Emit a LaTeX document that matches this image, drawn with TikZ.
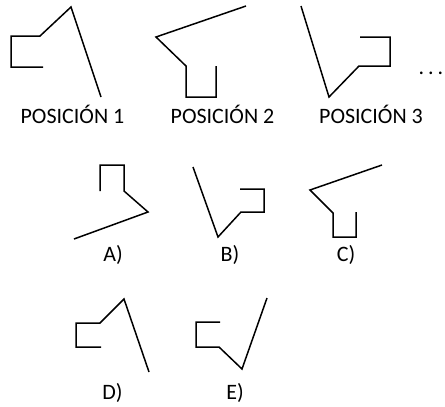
\documentclass[tikz,border=0pt]{standalone}
\usepackage{fontspec}
\setmainfont{Carlito}
\begin{document}
\begin{tikzpicture}[x=1pt,y=-1pt,
  fig/.style={line width=1.5pt, line join=miter, line cap=butt},
  lab/.style={anchor=base, inner sep=0pt, font=\fontsize{22}{26}\selectfont}]
\useasboundingbox (0,0) rectangle (445,407);
% Position 1
\draw[fig] (43,67) -- (11,67) -- (11,36) -- (40,36) -- (71,7) -- (101,97);
% Position 2
\draw[fig] (246,6) -- (156,37) -- (186,66) -- (186,97) -- (216,97) -- (216,66);
% Position 3
\draw[fig] (301,6) -- (329,97) -- (359,66) -- (390,66) -- (390,37) -- (360,37);
\node[lab] (dots) at (431,74) {.\hspace{4pt}.\hspace{4pt}.};
\node[lab] (p1) at (72.5,123) {POSICIÓN 1};
\node[lab] (p2) at (222.5,123) {POSICIÓN 2};
\node[lab] (p3) at (371,123) {POSICIÓN 3};
% A
\draw[fig] (100,191) -- (100,165) -- (124,165) -- (124,191) -- (148,212) -- (74,239);
\node[lab] (la) at (113,261) {A)};
% B
\draw[fig] (193,167) -- (218,237) -- (241,212) -- (264,212) -- (264,189) -- (240,189);
\node[lab] (lb) at (230,261) {B)};
% C
\draw[fig] (382,165) -- (310,190) -- (333,213) -- (333,237) -- (356,237) -- (356,212);
\node[lab] (lc) at (346,261) {C)};
% D
\draw[fig] (101,347) -- (76,347) -- (76,323) -- (100,323) -- (124,299) -- (149,372);
\node[lab] (ld) at (112.5,399) {D)};
% E
\draw[fig] (220,322) -- (196,322) -- (196,347) -- (219,347) -- (242,369) -- (267,298);
\node[lab] (le) at (235,399) {E)};
\end{tikzpicture}
\end{document}
